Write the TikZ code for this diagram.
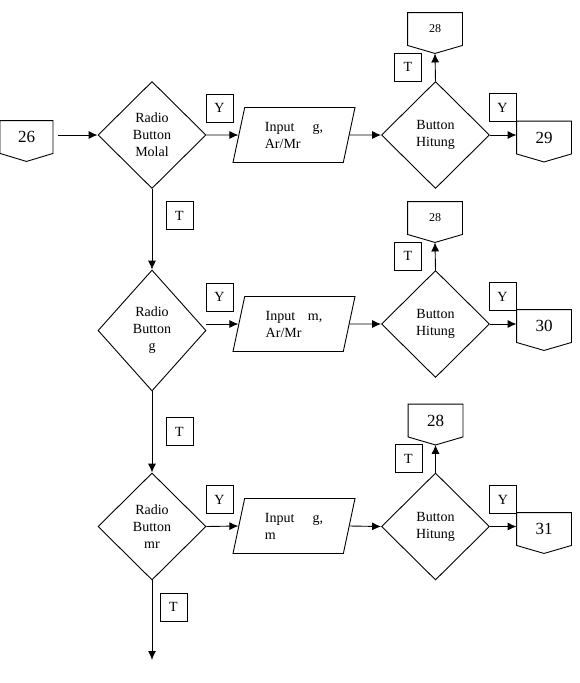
\documentclass[tikz,border=0pt]{standalone}
\usepackage{fontspec}
\setmainfont{Liberation Serif}
\usetikzlibrary{arrows.meta,positioning,shapes.geometric}
\tikzstyle{decision}=[
	diamond,
	draw=black,
	align=center,
	inner sep=0,
	minimum width=108,
	minimum height=107,
	font=\fontsize{14}{17}\selectfont]
\tikzstyle{io}=[
	trapezium,
	trapezium left angle=66,
	trapezium right angle=114,
	trapezium stretches body,
	draw=black,
	align=left,
	inner sep=0,
	minimum width=122,
	minimum height=55,
	font=\fontsize{14}{17}\selectfont]
\tikzstyle{offpage}=[
	rectangle,
	inner sep=0,
	minimum width=54,
	minimum height=32,
	font=\fontsize{17}{19}\selectfont,
	append after command={\pgfextra{\let\opnode\tikzlastnode
		\draw (\opnode.north west) -- (\opnode.north east) -- (\opnode.south east)
			-- ([yshift=-8pt]\opnode.south) -- (\opnode.south west) -- cycle;}}]
\tikzstyle{lbl}=[
	rectangle,
	draw=black,
	inner sep=0,
	minimum width=27,
	minimum height=28,
	font=\fontsize{14}{16}\selectfont]
\tikzstyle{flow}=[->]
\newcommand{\naik}[1]{\raisebox{7pt}{\begin{tabular}{@{}c@{}}#1\end{tabular}}}

\begin{document}
\begin{tikzpicture}[x=1pt,y=-1pt,line width=0.9pt,>={Latex[length=9pt,width=8pt]}]
	\useasboundingbox (0,0) rectangle (580,683);
	% baris 1
	\node[offpage,minimum width=52]	(c26)	at (26.5,137)	{26};
	\node[decision]	(molal)	at (152,135)	{Radio\\Button\\Molal};
	\node[lbl]	(ya1)	at (219.5,108)	{Y};
	\node[io]	(inp1)	at (294,135)	{Input\hspace{1.3em}g,\\Ar/Mr};
	\node[decision]	(hit1)	at (435.5,135)	{\naik{Button\\Hitung}};
	\node[lbl]	(tk1)	at (408,67)	{T};
	\node[offpage,font=\fontsize{12}{14}\selectfont]	(c28a)	at (435,29)	{28};
	\node[lbl]	(yb1)	at (502.5,107.5)	{Y};
	\node[offpage]	(c29)	at (544,137.5)	{29};
	\node[lbl]	(td1)	at (179.5,215.5)	{T};
	% baris 2
	\node[decision,minimum height=121]	(rbg)	at (152,330.5)	{Radio\\Button\\g};
	\node[lbl]	(ya2)	at (219.5,297)	{Y};
	\node[io]	(inp2)	at (294,324)	{Input\hspace{0.9em}m,\\Ar/Mr};
	\node[decision]	(hit2)	at (435.5,324)	{\naik{Button\\Hitung}};
	\node[lbl]	(tk2)	at (408,256)	{T};
	\node[offpage,font=\fontsize{12}{14}\selectfont]	(c28b)	at (435,218)	{28};
	\node[lbl]	(yb2)	at (502.5,296.5)	{Y};
	\node[offpage]	(c30)	at (544,326)	{30};
	\node[lbl]	(td2)	at (179.5,431.5)	{T};
	% baris 3
	\node[decision]	(rbmr)	at (152,526.5)	{Radio\\Button\\mr};
	\node[lbl]	(ya3)	at (219.5,499.5)	{Y};
	\node[io]	(inp3)	at (294,526)	{Input\hspace{1.3em}g,\\m};
	\node[decision]	(hit3)	at (435.5,526.5)	{\naik{Button\\Hitung}};
	\node[lbl]	(tk3)	at (408.5,458.5)	{T};
	\node[offpage]	(c28c)	at (435.5,420.5)	{28};
	\node[lbl]	(yb3)	at (503,499.5)	{Y};
	\node[offpage]	(c31)	at (544,529)	{31};
	\node[lbl]	(td3)	at (173.5,607)	{T};
	\coordinate	(akhir)	at (152,660);
	% panah
	\draw[flow,shorten <=5pt]	(c26.east |- molal.west) -- (molal.west);
	\draw[flow]	(molal.east) -- (inp1.west);
	\draw[flow]	(inp1.east) -- (hit1.west);
	\draw[flow]	(hit1.north) -- ([yshift=-8pt]c28a.south);
	\draw[flow]	(hit1.east) -- (c29.west |- hit1.east);
	\draw[flow]	(molal.south) -- (rbg.north);
	\draw[flow]	(rbg.east |- inp2.west) -- (inp2.west);
	\draw[flow]	(inp2.east) -- (hit2.west);
	\draw[flow]	(hit2.north) -- ([yshift=-8pt]c28b.south);
	\draw[flow]	(hit2.east) -- (c30.west |- hit2.east);
	\draw[flow]	(rbg.south) -- (rbmr.north);
	\draw[flow]	(rbmr.east) -- (inp3.west);
	\draw[flow]	(inp3.east) -- (hit3.west);
	\draw[flow]	(hit3.north) -- ([yshift=-8pt]c28c.south);
	\draw[flow]	(hit3.east) -- (c31.west |- hit3.east);
	\draw[flow]	(rbmr.south) -- (akhir);
\end{tikzpicture}
\end{document}
